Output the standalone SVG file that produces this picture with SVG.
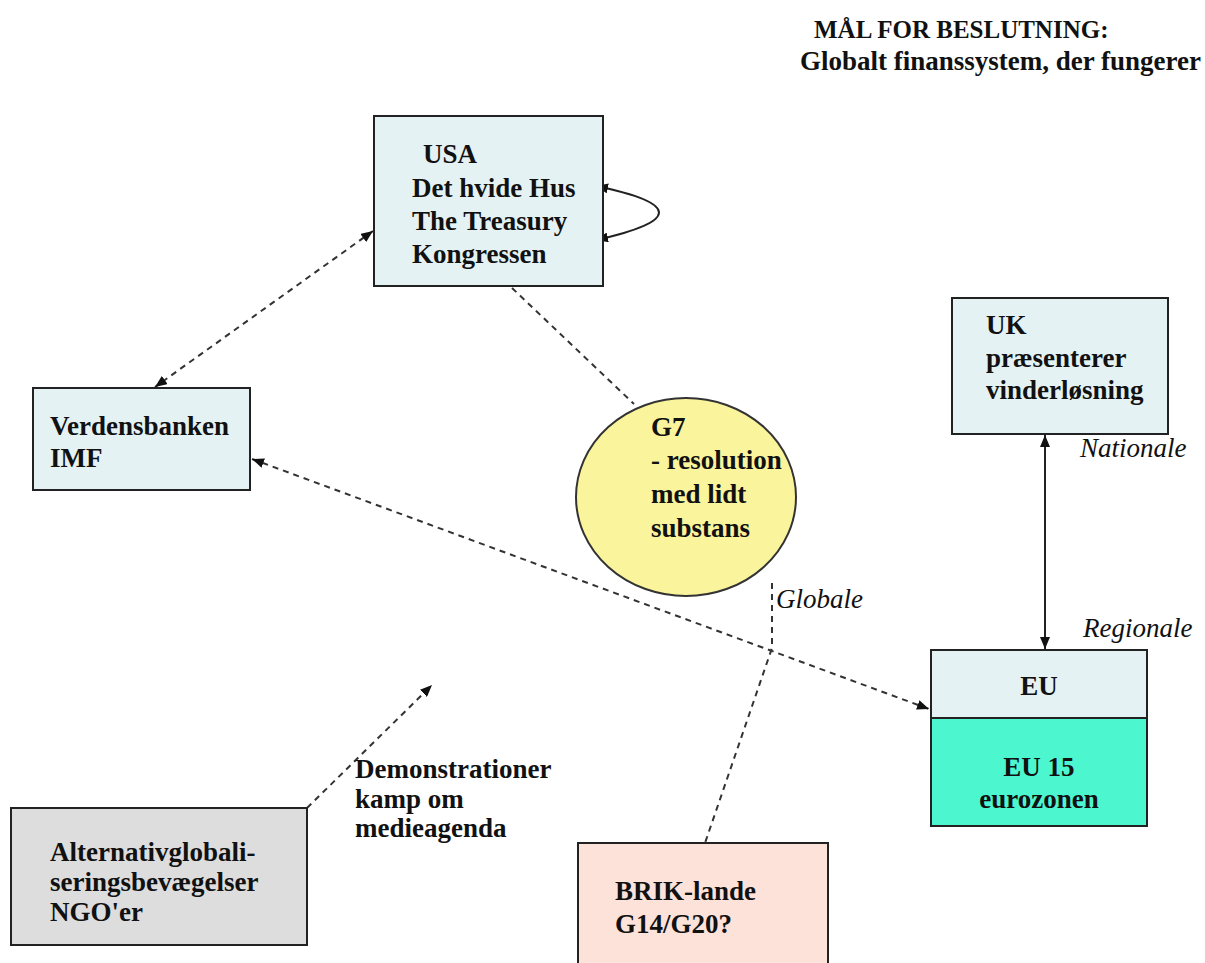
<svg xmlns="http://www.w3.org/2000/svg" width="1205" height="963" viewBox="0 0 1205 963">
<style>
  .t { font-family: "Liberation Serif", "Times New Roman", serif; font-weight: bold; font-size: 27px; fill: #111; }
  .title { font-family: "Liberation Serif", "Times New Roman", serif; font-weight: bold; fill: #111; }
  .lvl { font-family: "Liberation Serif", "Times New Roman", serif; font-style: italic; font-size: 27px; fill: #111; }
  .box { stroke: #222; stroke-width: 2; }
  .blue { fill: #e5f2f4; }
  .dash { fill: none; stroke: #333; stroke-width: 2; stroke-dasharray: 6 5; }
  .solid { fill: none; stroke: #222; stroke-width: 2; }
</style>
<defs>
  <marker id="ah" markerUnits="userSpaceOnUse" markerWidth="12" markerHeight="10" refX="12" refY="5" orient="auto-start-reverse">
    <path d="M0,0 L12,5 L0,10 z" fill="#111"/>
  </marker>
</defs>
<rect width="1205" height="963" fill="#ffffff"/>

<g id="title">
  <text class="title" x="814" y="38" font-size="25">MÅL FOR BESLUTNING:</text>
  <text class="title" x="800" y="70" font-size="27">Globalt finanssystem, der fungerer</text>
</g>

<g id="connectors">
  <line class="dash" x1="373" y1="231" x2="155" y2="387" marker-start="url(#ah)" marker-end="url(#ah)"/>
  <line class="dash" x1="512" y1="288" x2="634" y2="404"/>
  <line class="dash" x1="252" y1="459" x2="929" y2="709" marker-start="url(#ah)" marker-end="url(#ah)"/>
  <line class="solid" x1="1045" y1="435" x2="1045" y2="649" marker-start="url(#ah)" marker-end="url(#ah)"/>
  <line class="dash" x1="307" y1="808" x2="432" y2="685" marker-end="url(#ah)"/>
  <polyline class="dash" points="772,583 772,648 705,843"/>
  <path class="solid" d="M596,186 Q722,212 596,240" marker-start="url(#ah)" marker-end="url(#ah)"/>
</g>

<g id="usa">
  <rect class="box blue" x="374" y="116" width="229" height="170"/>
  <text class="t" x="423" y="163">USA</text>
  <text class="t" x="412" y="197">Det hvide Hus</text>
  <text class="t" x="412" y="230">The Treasury</text>
  <text class="t" x="412" y="263">Kongressen</text>
</g>

<g id="verdensbanken">
  <rect class="box blue" x="33" y="388" width="217" height="102"/>
  <text class="t" x="50" y="435">Verdensbanken</text>
  <text class="t" x="50" y="467">IMF</text>
</g>

<g id="g7">
  <ellipse cx="686" cy="497" rx="110" ry="99" fill="#faf49c" stroke="#333" stroke-width="2"/>
  <text class="t" x="651" y="436">G7</text>
  <text class="t" x="651" y="469">- resolution</text>
  <text class="t" x="651" y="503">med lidt</text>
  <text class="t" x="651" y="537">substans</text>
</g>

<g id="uk">
  <rect class="box blue" x="952" y="298" width="216" height="136"/>
  <text class="t" x="986" y="334">UK</text>
  <text class="t" x="986" y="367">præsenterer</text>
  <text class="t" x="986" y="399">vinderløsning</text>
</g>

<g id="eu">
  <rect class="box" x="931" y="718" width="216" height="108" fill="#4cf7d0"/>
  <rect class="box blue" x="931" y="650" width="216" height="68"/>
  <text class="t" x="1039" y="695" text-anchor="middle">EU</text>
  <text class="t" x="1039" y="776" text-anchor="middle">EU 15</text>
  <text class="t" x="1039" y="808" text-anchor="middle" font-size="25">eurozonen</text>
</g>

<g id="brik">
  <rect class="box" x="578" y="843" width="250" height="130" fill="#fde2da"/>
  <text class="t" x="615" y="900">BRIK-lande</text>
  <text class="t" x="615" y="933">G14/G20?</text>
</g>

<g id="ngo">
  <rect class="box" x="11" y="808" width="296" height="137" fill="#dddddd"/>
  <text class="t" x="50" y="861">Alternativglobali-</text>
  <text class="t" x="50" y="891">seringsbevægelser</text>
  <text class="t" x="50" y="921">NGO'er</text>
</g>

<g id="labels">
  <text class="t" x="355" y="778">Demonstrationer</text>
  <text class="t" x="355" y="808">kamp om</text>
  <text class="t" x="355" y="837">medieagenda</text>
  <text class="lvl" x="1080" y="457">Nationale</text>
  <text class="lvl" x="1083" y="637">Regionale</text>
  <text class="lvl" x="776" y="608">Globale</text>
</g>
</svg>
